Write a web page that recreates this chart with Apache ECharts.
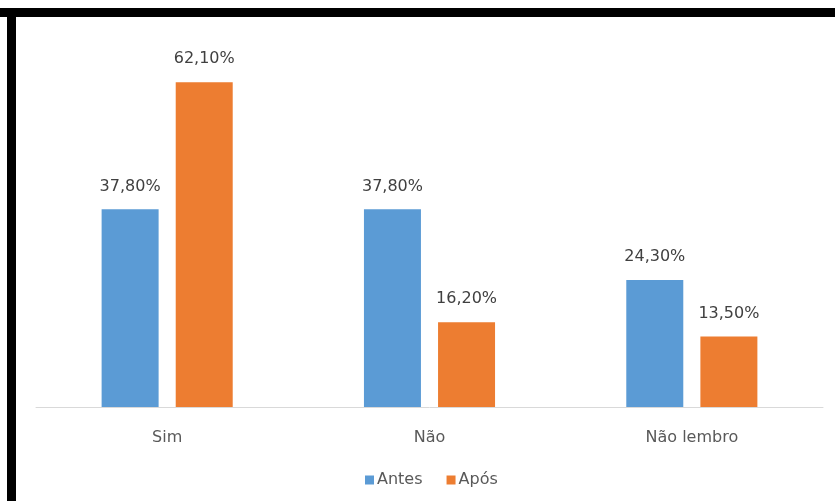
<!DOCTYPE html>
<html>
<head>
<meta charset="utf-8">
<script src="https://cdn.jsdelivr.net/npm/echarts@6/dist/echarts.min.js"></script>
<style>
html,body{margin:0;padding:0;background:#fff;}
#chart{width:835px;height:501px;}
</style>
</head>
<body>
<div id="chart"></div>
<script>
const categories = ['Sim', 'Não', 'Não lembro'];
const antes = [37.8, 37.8, 24.3];
const apos = [62.1, 16.2, 13.5];
const seriesNames = ['Antes', 'Após'];

const fontFamily = '"DejaVu Sans", "Open Sans", sans-serif';
const fmt = p => p.value.toFixed(2).replace('.', ',') + '%';

const chart = echarts.init(document.getElementById('chart'));
const labelStyle = {
  show: true, position: 'top', distance: 15,
  formatter: fmt, color: '#404040', fontSize: 16, fontFamily
};
chart.setOption({
  animation: false,
  backgroundColor: '#fff',
  grid: { left: 36, right: 12, top: 41, height: 366 },
  legend: {
    data: seriesNames, bottom: 8, left: 360, padding: [5, 5],
    itemWidth: 9, itemHeight: 9, itemGap: 24,
    icon: 'rect',
    textStyle: { color: '#595959', fontSize: 16, fontFamily, padding: [0, 0, 0, -2] }
  },
  xAxis: {
    type: 'category', data: categories,
    axisLine: { lineStyle: { color: '#d9d9d9', width: 1 } },
    axisTick: { show: false },
    axisLabel: { color: '#595959', fontSize: 16, fontFamily, margin: 23 }
  },
  yAxis: {
    type: 'value', min: 0, max: 70, interval: 10, show: false,
    splitLine: { show: false }
  },
  series: [
    { name: seriesNames[0], type: 'bar', data: antes, barWidth: 57, barGap: '30%',
      itemStyle: { color: '#5b9bd5' }, label: labelStyle },
    { name: seriesNames[1], type: 'bar', data: apos, barWidth: 57,
      itemStyle: { color: '#ed7d31' }, label: labelStyle }
  ],
  graphic: [
    { type: 'rect', shape: { x: 0, y: 8, width: 835, height: 9 }, style: { fill: '#000' }, z: 100 },
    { type: 'rect', shape: { x: 7, y: 8, width: 9, height: 493 }, style: { fill: '#000' }, z: 100 }
  ]
});
</script>
</body>
</html>
